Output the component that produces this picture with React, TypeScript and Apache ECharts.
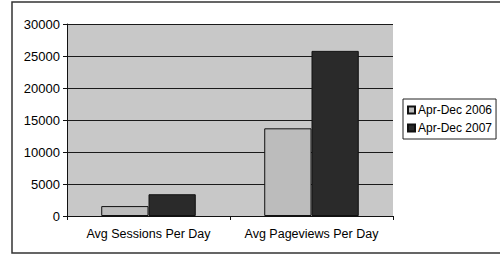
import React, { useEffect, useRef } from "react";
import * as echarts from "echarts";

const categories = ["Avg Sessions Per Day", "Avg Pageviews Per Day"];
const seriesNames = ["Apr-Dec 2006", "Apr-Dec 2007"];
const values2006 = [1550, 13700];
const values2007 = [3400, 25800];
const yTicks = { min: 0, max: 30000, interval: 5000 };

export default function App() {
  const ref = useRef<HTMLDivElement>(null);
  useEffect(() => {
    if (!ref.current) return;
    const chart = echarts.init(ref.current, null, { renderer: "svg" });
    const font = "'Liberation Sans', Arial, sans-serif";
    chart.setOption({
      animation: false,
      backgroundColor: "#ffffff",
      textStyle: { fontFamily: font },
      graphic: [
        {
          type: "rect",
          shape: { x: 12, y: 2, width: 500, height: 251 },
          style: { fill: "none", stroke: "#333", lineWidth: 1.5 },
          silent: true,
        },
      ],
      grid: {
        left: 67,
        right: 107,
        top: 24,
        bottom: 38,
        show: true,
        backgroundColor: "#c8c8c8",
        borderWidth: 0,
      },
      legend: {
        orient: "vertical",
        left: 403,
        top: 99,
        data: seriesNames,
        borderColor: "#222",
        borderWidth: 1,
        borderRadius: 0,
        padding: [5, 4, 5, 4],
        itemGap: 6,
        itemWidth: 7,
        itemHeight: 7,
        icon: "rect",
        textStyle: { fontSize: 12, color: "#000", fontFamily: font, padding: [0, 0, 0, -2] },
      },
      xAxis: {
        type: "category",
        data: categories,
        axisLine: { show: true, lineStyle: { color: "#111", width: 1 } },
        axisTick: { show: true, alignWithLabel: false, length: 4, lineStyle: { color: "#111" } },
        axisLabel: {
          fontSize: 12.5,
          color: "#000",
          margin: 11,
          fontFamily: font,
          interval: 0,
          hideOverlap: false,
        },
      },
      yAxis: {
        type: "value",
        min: yTicks.min,
        max: yTicks.max,
        interval: yTicks.interval,
        axisLine: { show: true, lineStyle: { color: "#111", width: 1 } },
        axisTick: { show: true, inside: false, length: 4, lineStyle: { color: "#111" } },
        axisLabel: {
          fontSize: 13,
          color: "#000",
          margin: 7,
          fontFamily: font,
          formatter: (v: number) => String(v),
        },
        splitLine: { show: true, lineStyle: { color: "#1a1a1a", width: 1 } },
      },
      series: [
        {
          name: seriesNames[0],
          type: "bar",
          data: values2006,
          barGap: "0%",
          barCategoryGap: "42%",
          itemStyle: { color: "#bcbcbc", borderColor: "#111", borderWidth: 1 },
        },
        {
          name: seriesNames[1],
          type: "bar",
          data: values2007,
          barGap: "0%",
          barCategoryGap: "42%",
          itemStyle: { color: "#2a2a2a", borderColor: "#111", borderWidth: 1 },
        },
      ],
    });
    return () => chart.dispose();
  }, []);
  return (
    <div
      ref={ref}
      style={{ position: "fixed", left: 0, top: 0, width: 500, height: 254 }}
    />
  );
}
